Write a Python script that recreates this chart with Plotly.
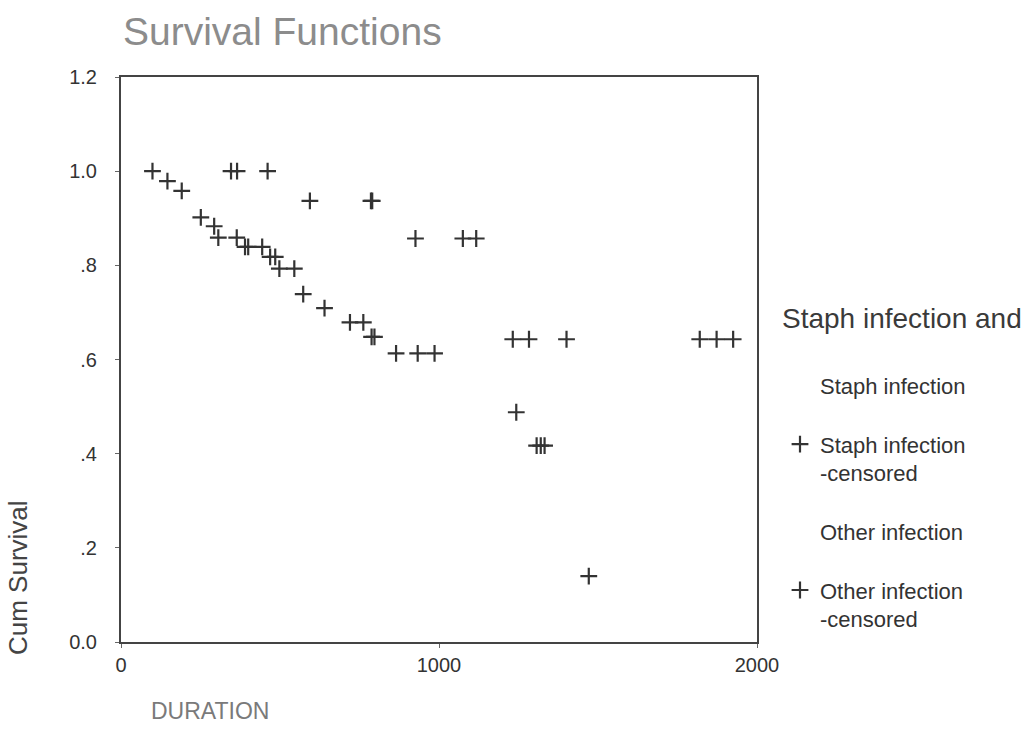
import plotly.graph_objects as go

# Staph infection - censored observations
staph_time = [99, 146, 191, 251, 293, 306, 364, 390, 400, 444, 469, 485, 498, 545,
              573, 640, 720, 762, 788, 797, 865, 933, 986, 1243, 1307, 1320, 1332, 1471]
staph_surv = [1.0, 0.979, 0.958, 0.902, 0.883, 0.859, 0.859, 0.839, 0.839, 0.839, 0.818, 0.818,
              0.793, 0.793, 0.739, 0.709, 0.679, 0.679, 0.648, 0.648, 0.613, 0.613, 0.613,
              0.488, 0.417, 0.417, 0.417, 0.140]

# Other infection - censored observations
other_time = [346, 365, 461, 594, 786, 790, 926, 1075, 1117, 1232, 1283, 1401, 1820, 1873, 1925]
other_surv = [1.0, 1.0, 1.0, 0.937, 0.937, 0.937, 0.857, 0.857, 0.857,
              0.643, 0.643, 0.643, 0.643, 0.643, 0.643]

y_tickvals = [0, 0.2, 0.4, 0.6, 0.8, 1.0, 1.2]
y_ticktext = ["0.0", ".2", ".4", ".6", ".8", "1.0", "1.2"]
x_tickvals = [0, 1000, 2000]

FONT = "Liberation Sans, Arial, sans-serif"
MARK = dict(symbol="cross-thin", size=12, color="#333333", line=dict(width=2.2, color="#333333"))

fig = go.Figure()
fig.add_trace(go.Scatter(x=[None], y=[None], mode="lines", name="Staph infection",
                         line=dict(color="rgba(0,0,0,0)", width=0), legendgroup="a"))
fig.add_trace(go.Scatter(x=staph_time, y=staph_surv, mode="markers",
                         name="Staph infection<br>-censored", marker=MARK, legendgroup="b"))
fig.add_trace(go.Scatter(x=[None], y=[None], mode="lines", name="Other infection",
                         line=dict(color="rgba(0,0,0,0)", width=0), legendgroup="c"))
fig.add_trace(go.Scatter(x=other_time, y=other_surv, mode="markers",
                         name="Other infection<br>-censored", marker=MARK, legendgroup="d"))

fig.update_layout(
    width=1023, height=749,
    margin=dict(l=121, r=266, t=77, b=107, autoexpand=False),
    paper_bgcolor="white", plot_bgcolor="white",
    font=dict(family=FONT, color="#333333"),
    title=dict(text="Survival Functions", x=123/1023, xanchor="left",
               y=1 - 31/749, yanchor="middle",
               font=dict(size=39, color="#8c8c8c", family=FONT)),
    showlegend=True,
    legend=dict(xref="container", yref="container", x=780/1023, xanchor="left",
                y=1 - 292/749, yanchor="top",
                title=dict(text="Staph infection and<br> ", font=dict(size=28, color="#3a3a3a")),
                font=dict(size=22, color="#333333"),
                tracegroupgap=27, valign="top", bgcolor="rgba(0,0,0,0)"),
    xaxis=dict(range=[0, 2000], tickvals=x_tickvals, showgrid=False, zeroline=False,
               showline=True, linecolor="#444444", linewidth=2, mirror=True,
               ticks="outside", ticklen=4, tickcolor="#666666",
               tickfont=dict(size=20, color="#333333")),
    yaxis=dict(range=[0, 1.2], tickvals=y_tickvals, ticktext=y_ticktext, showgrid=False,
               zeroline=False, showline=True, linecolor="#444444", linewidth=2, mirror=True,
               ticks="outside", ticklen=4, tickcolor="#666666", ticklabelstandoff=14,
               tickfont=dict(size=20, color="#333333")),
    annotations=[
        dict(text="Cum Survival", textangle=-90, xref="paper", yref="paper",
             x=(18-121)/636, y=(642-578)/565, xanchor="center", yanchor="middle",
             showarrow=False, font=dict(size=26, color="#444444", family=FONT)),
        dict(text="DURATION", xref="paper", yref="paper",
             x=(149-121)/636, y=(642-711)/565, xanchor="left", yanchor="middle",
             showarrow=False, font=dict(size=23, color="#7a7a7a", family=FONT)),
    ],
)

fig.write_html("out.html")
